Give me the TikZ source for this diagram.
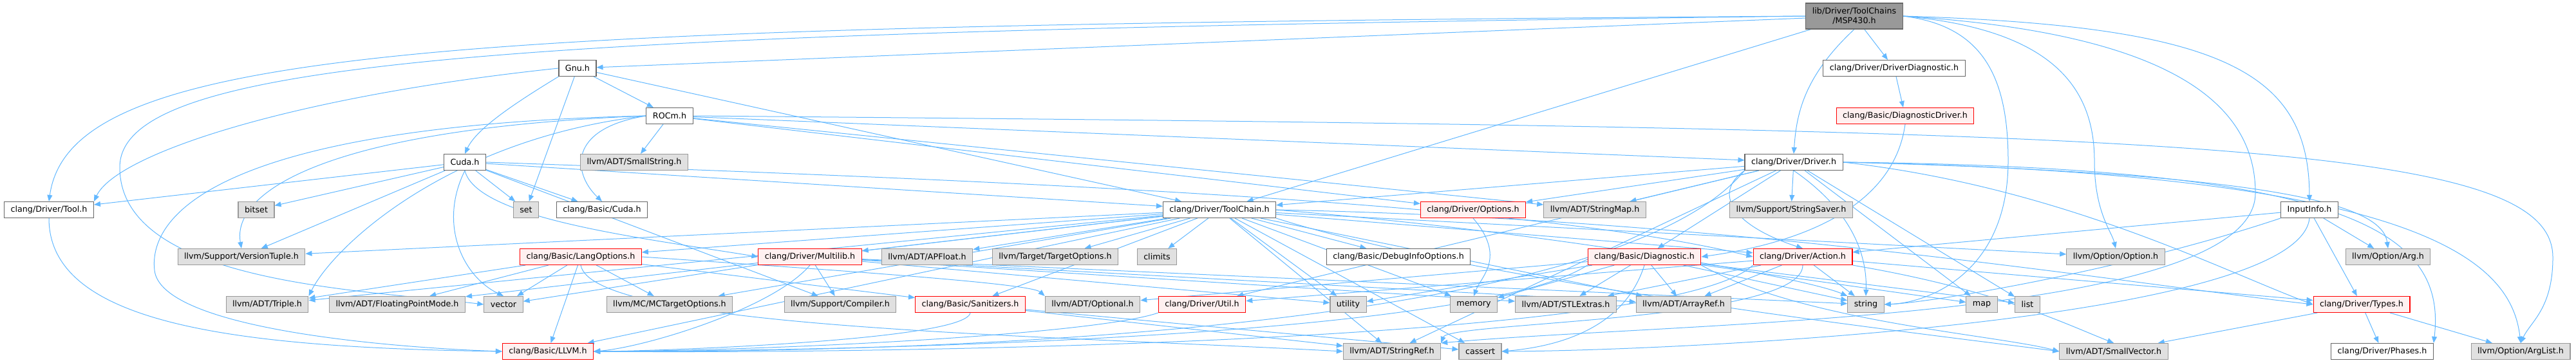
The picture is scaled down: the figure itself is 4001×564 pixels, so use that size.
\documentclass[tikz,border=0pt]{standalone}
\usepackage{fontspec}
\setmainfont{DejaVu Sans}
\usepackage{xcolor}
\usepackage{tikz}
\usetikzlibrary{arrows.meta,backgrounds}
\definecolor{edgeblue}{HTML}{63B8FF}
\definecolor{wbord}{HTML}{666666}
\definecolor{gbord}{HTML}{999999}
\definecolor{gfill}{HTML}{E0E0E0}
\definecolor{rfill}{HTML}{FFF0F0}
\definecolor{rootfill}{HTML}{999999}

\begin{document}
\begin{tikzpicture}[x=1pt, y=-1pt, font=\fontsize{12.7}{15}\selectfont,
  hdr/.style={draw=wbord, fill=white, line width=1.1pt, minimum height=25pt, inner xsep=10pt, inner ysep=0pt},
  sys/.style={hdr, draw=gbord, fill=gfill},
  trunc/.style={hdr, draw=red, fill=rfill},
  root/.style={hdr, fill=rootfill, align=center, minimum height=40pt},
  dep/.style={draw=edgeblue, line width=1pt, -{Triangle[length=10pt,width=8pt]}}]
  \useasboundingbox (0,0) rectangle (4001,564);
  % --- rank 0..3 ---
  \node[root]  (msp)     at (2880,25)  {lib/Driver/ToolChains\\/MSP430.h};
  \node[hdr]   (gnu)     at (897,106)  {Gnu.h};
  \node[hdr]   (ddiag)   at (2942,106) {clang/Driver/DriverDiagnostic.h};
  \node[hdr]   (rocm)    at (1040,180) {ROCm.h};
  \node[trunc] (diagdrv) at (2959,180) {clang/Basic/DiagnosticDriver.h};
  \node[hdr]   (cuda)    at (722,252)  {Cuda.h};
  \node[sys]   (sstr)    at (985,252)  {llvm/ADT/SmallString.h};
  \node[hdr]   (driver)  at (2786,252) {clang/Driver/Driver.h};
  % --- rank 4 ---
  \node[hdr]   (tool)    at (76,326)   {clang/Driver/Tool.h};
  \node[sys]   (bitset)  at (398,326)  {bitset};
  \node[sys]   (set)     at (817,326)  {set};
  \node[hdr]   (bcuda)   at (935,326)  {clang/Basic/Cuda.h};
  \node[hdr]   (tc)      at (1894,326) {clang/Driver/ToolChain.h};
  \node[trunc] (opts)    at (2288,326) {clang/Driver/Options.h};
  \node[sys]   (smap)    at (2477,326) {llvm/ADT/StringMap.h};
  \node[sys]   (ssaver)  at (2782,326) {llvm/Support/StringSaver.h};
  \node[hdr]   (input)   at (3587,326) {InputInfo.h};
  % --- rank 5 ---
  \node[sys]   (vtuple)  at (375,399)  {llvm/Support/VersionTuple.h};
  \node[trunc] (lang)    at (902,399)  {clang/Basic/LangOptions.h};
  \node[trunc] (mlib)    at (1258,399) {clang/Driver/Multilib.h};
  \node[sys]   (apf)     at (1440,399) {llvm/ADT/APFloat.h};
  \node[sys]   (topts)   at (1639,399) {llvm/Target/TargetOptions.h};
  \node[sys]   (climits) at (1797,399) {climits};
  \node[hdr]   (dbg)     at (2172,399) {clang/Basic/DebugInfoOptions.h};
  \node[trunc] (diag)    at (2554,399) {clang/Basic/Diagnostic.h};
  \node[trunc] (action)  at (2800,399) {clang/Driver/Action.h};
  \node[sys]   (option)  at (3286,399) {llvm/Option/Option.h};
  \node[sys]   (arg)     at (3709,399) {llvm/Option/Arg.h};
  % --- rank 6 ---
  \node[sys]   (triple)  at (415,473)  {llvm/ADT/Triple.h};
  \node[sys]   (fpm)     at (617,473)  {llvm/ADT/FloatingPointMode.h};
  \node[sys]   (vector)  at (782,473)  {vector};
  \node[sys]   (mct)     at (1040,473) {llvm/MC/MCTargetOptions.h};
  \node[sys]   (compiler) at (1305,473) {llvm/Support/Compiler.h};
  \node[trunc] (san)     at (1507,473) {clang/Basic/Sanitizers.h};
  \node[sys]   (optional) at (1697,473) {llvm/ADT/Optional.h};
  \node[trunc] (util)    at (1867,473) {clang/Driver/Util.h};
  \node[sys]   (utility) at (2094,473) {utility};
  \node[sys]   (memory)  at (2289,473) {memory};
  \node[sys]   (stlext)  at (2432,473) {llvm/ADT/STLExtras.h};
  \node[sys]   (arrayref) at (2615,473) {llvm/ADT/ArrayRef.h};
  \node[sys]   (string)  at (2898,473) {string};
  \node[sys]   (map)     at (3078,473) {map};
  \node[sys]   (list)    at (3149,473) {list};
  \node[trunc] (types)   at (3668,473) {clang/Driver/Types.h};
  % --- rank 7 ---
  \node[trunc] (llvmh)   at (851,546)  {clang/Basic/LLVM.h};
  \node[sys]   (sref)    at (2162,546) {llvm/ADT/StringRef.h};
  \node[sys]   (cassert) at (2299,546) {cassert};
  \node[sys]   (svec)    at (3283,546) {llvm/ADT/SmallVector.h};
  \node[hdr]   (phases)  at (3700,546) {clang/Driver/Phases.h};
  \node[sys]   (arglist) at (3915,546) {llvm/Option/ArgList.h};
  \begin{scope}[on background layer]
    % MSP430.h
    \draw[dep] (msp) -- (gnu); \draw[dep] (msp) -- (ddiag); \draw[dep] (msp) -- (tc);
    \draw[dep] (msp.south) .. controls (2800,120) and (2790,180) .. (driver.north);
    \draw[dep] (msp.west) .. controls (700,40) and (110,70) .. (tool.north);
    \draw[dep] (msp.west) .. controls (800,50) and (186,90) .. (186,260) .. controls (186,440) and (560,450) .. (vector.west);
    \draw[dep] (msp.east) .. controls (3080,40) and (3119,120) .. (3119,250) .. controls (3119,420) and (3000,470) .. (string.east);
    \draw[dep] (msp.east) .. controls (3180,45) and (3253,130) .. (3253,250) .. controls (3253,330) and (3280,360) .. (option.north);
    \draw[dep] (msp.east) .. controls (3350,50) and (3503,150) .. (3503,300) .. controls (3503,500) and (2600,500) .. (sref.north east);
    \draw[dep] (msp.east) .. controls (3450,40) and (3586,110) .. (input.north);
    % Gnu.h
    \draw[dep] (gnu.south west) .. controls (800,160) and (740,200) .. (cuda.north);
    \draw[dep] (gnu) -- (rocm); \draw[dep] (gnu) -- (set); \draw[dep] (gnu) -- (tc);
    \draw[dep] (gnu.west) .. controls (450,150) and (180,240) .. (tool.north east);
    % ROCm.h
    \draw[dep] (rocm) -- (sstr); \draw[dep] (rocm) -- (driver); \draw[dep] (rocm) -- (opts); \draw[dep] (rocm) -- (smap);
    \draw[dep] (rocm.west) .. controls (880,200) and (890,270) .. (bcuda.north);
    \draw[dep] (rocm.west) .. controls (500,200) and (360,300) .. (vtuple.north);
    \draw[dep] (rocm.west) .. controls (350,195) and (230,330) .. (240,420) .. controls (250,510) and (600,540) .. (llvmh.west);
    \draw[dep] (rocm.west) .. controls (700,215) and (520,380) .. (triple.north east);
    \draw[dep] (rocm.east) .. controls (3400,200) and (3965,220) .. (3965,400) .. controls (3965,480) and (3930,500) .. (arglist.north);
    % Cuda.h
    \draw[dep] (cuda) -- (tool); \draw[dep] (cuda) -- (bitset); \draw[dep] (cuda) -- (vtuple);
    \draw[dep] (cuda) -- (set); \draw[dep] (cuda) -- (bcuda); \draw[dep] (cuda) -- (compiler); \draw[dep] (cuda) -- (tc);
    \draw[dep] (cuda.south) .. controls (680,350) and (720,430) .. (vector.north);
    \draw[dep] (cuda.south) .. controls (740,340) and (1000,370) .. (mlib.west);
    \draw[dep] (cuda.east) .. controls (1700,285) and (2400,320) .. (action.west);
    % Driver.h and its diagnostics
    \draw[dep] (ddiag) -- (diagdrv);
    \draw[dep] (diagdrv.south) .. controls (2940,330) and (2780,380) .. (diag.east);
    \draw[dep] (driver) -- (ssaver); \draw[dep] (driver) -- (diag); \draw[dep] (driver) -- (tc);
    \draw[dep] (driver) -- (opts); \draw[dep] (driver) -- (smap); \draw[dep] (driver) -- (map);
    \draw[dep] (driver) -- (list); \draw[dep] (driver) -- (util); \draw[dep] (driver) -- (sref);
    \draw[dep] (driver.south west) .. controls (2660,300) and (2690,350) .. (action.north);
    \draw[dep] (driver.south) .. controls (2880,330) and (2900,400) .. (string.north);
    \draw[dep] (driver.east) .. controls (3200,290) and (3450,420) .. (types.west);
    \draw[dep] (driver.east) .. controls (3550,270) and (3700,320) .. (arg.north);
    \draw[dep] (driver.east) .. controls (3650,260) and (3800,360) .. (phases.north east);
    \draw[dep] (driver.east) .. controls (3750,270) and (3900,400) .. (arglist.north);
    \draw[dep] (driver.south west) .. controls (2500,520) and (1400,548) .. (llvmh.east);
    % Tool.h
    \draw[dep] (tool.south) .. controls (76,500) and (350,540) .. (llvmh.west);
    % ToolChain.h
    \draw[dep] (tc) -- (dbg); \draw[dep] (tc) -- (climits); \draw[dep] (tc) -- (topts); \draw[dep] (tc) -- (apf);
    \draw[dep] (tc) -- (mlib); \draw[dep] (tc) -- (lang); \draw[dep] (tc) -- (vtuple); \draw[dep] (tc) -- (triple);
    \draw[dep] (tc) -- (fpm); \draw[dep] (tc) -- (mct); \draw[dep] (tc) -- (san); \draw[dep] (tc) -- (utility);
    \draw[dep] (tc) -- (memory); \draw[dep] (tc) -- (arrayref); \draw[dep] (tc) -- (action); \draw[dep] (tc) -- (option);
    \draw[dep] (tc) -- (sref); \draw[dep] (tc) -- (cassert); \draw[dep] (tc) -- (llvmh);
    \draw[dep] (tc.east) .. controls (2400,360) and (2800,430) .. (string.north west);
    \draw[dep] (tc.east) .. controls (2700,340) and (3300,440) .. (types.west);
    \draw[dep] (tc.south east) .. controls (2300,440) and (3000,520) .. (svec.west);
    % InputInfo.h
    \draw[dep] (input) -- (arg); \draw[dep] (input) -- (types); \draw[dep] (input) -- (action);
    \draw[dep] (input.south west) .. controls (3300,420) and (3000,470) .. (string.east);
    \draw[dep] (input.south) .. controls (3570,500) and (2600,545) .. (cassert.east);
    % LangOptions.h
    \draw[dep] (lang) -- (triple); \draw[dep] (lang) -- (fpm); \draw[dep] (lang) -- (vector);
    \draw[dep] (lang) -- (mct); \draw[dep] (lang) -- (llvmh); \draw[dep] (lang) -- (san);
    \draw[dep] (lang.east) .. controls (1300,420) and (1600,440) .. (optional.north west);
    \draw[dep] (lang.south) .. controls (920,510) and (1600,520) .. (sref.west);
    % Multilib.h
    \draw[dep] (mlib) -- (compiler); \draw[dep] (mlib) -- (vector); \draw[dep] (mlib) -- (arrayref);
    \draw[dep] (mlib) -- (stlext); \draw[dep] (mlib) -- (utility); \draw[dep] (mlib) -- (string);
    \draw[dep] (mlib.south) .. controls (1200,480) and (1000,540) .. (llvmh.east);
    % Action.h
    \draw[dep] (action) -- (arrayref); \draw[dep] (action) -- (string); \draw[dep] (action) -- (util);
    \draw[dep] (action) -- (stlext); \draw[dep] (action) -- (types);
    \draw[dep] (action.south east) .. controls (3100,450) and (3200,500) .. (svec.north);
    \draw[dep] (action.south) .. controls (2800,500) and (2250,500) .. (sref.north east);
    \draw[dep] (action.south west) .. controls (2600,530) and (1400,550) .. (llvmh.east);
    % Diagnostic.h
    \draw[dep] (diag) -- (memory); \draw[dep] (diag) -- (arrayref); \draw[dep] (diag) -- (stlext);
    \draw[dep] (diag) -- (string); \draw[dep] (diag) -- (map); \draw[dep] (diag) -- (list);
    \draw[dep] (diag) -- (utility); \draw[dep] (diag) -- (optional);
    \draw[dep] (diag.south east) .. controls (2800,500) and (3100,520) .. (svec.west);
    \draw[dep] (diag.south) .. controls (2520,520) and (2400,540) .. (cassert.east);
    \draw[dep] (diag.south west) .. controls (2300,520) and (1400,545) .. (llvmh.east);
    % Sanitizers.h, Util.h, Options.h, Types.h
    \draw[dep] (san) -- (sref); \draw[dep] (san) -- (cassert);
    \draw[dep] (san.south) .. controls (1500,530) and (1000,546) .. (llvmh.east);
    \draw[dep] (util.south west) .. controls (1700,520) and (1200,545) .. (llvmh.east);
    \draw[dep] (opts.south) .. controls (2340,400) and (2300,430) .. (memory.north);
    \draw[dep] (types) -- (svec); \draw[dep] (types) -- (phases); \draw[dep] (types) -- (arglist);
  \end{scope}
\end{tikzpicture}
\end{document}
